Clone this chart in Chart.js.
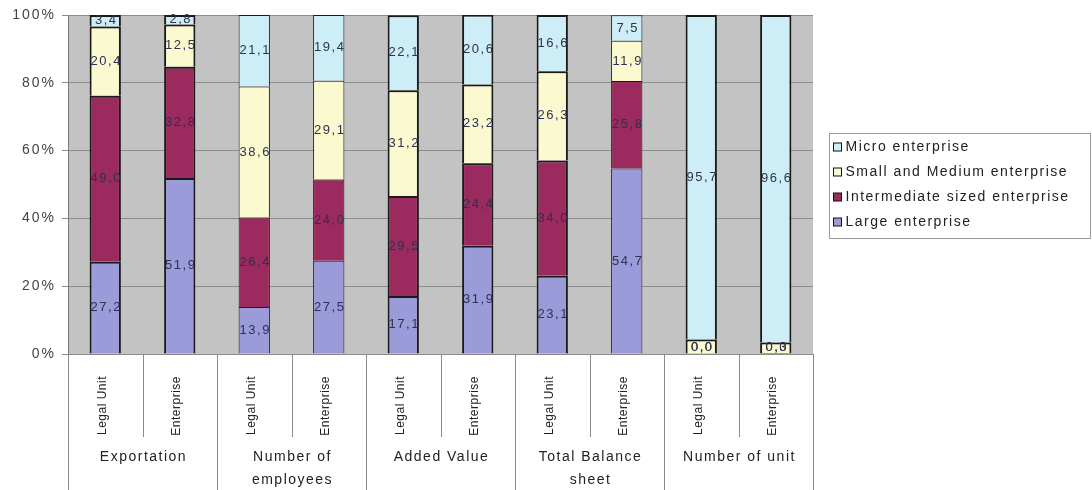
<!DOCTYPE html>
<html>
<head>
<meta charset="utf-8">
<script src="https://cdn.jsdelivr.net/npm/chart.js@4.4.1/dist/chart.umd.min.js"></script>
<style>
  html, body { margin: 0; padding: 0; background: #fff; }
  #wrap { width: 1092px; height: 490px; position: relative; }
</style>
</head>
<body>
<div id="wrap"><canvas id="c"></canvas></div>
<script>
// Indicator groups and the two counting units inside each group
const groups = [['Exportation'], ['Number of', 'employees'], ['Added Value'], ['Total Balance', 'sheet'], ['Number of unit']];
const units = ['Legal Unit', 'Enterprise'];

// Shares (%) per enterprise category, one value per bar
const seriesNames = ['Large enterprise', 'Intermediate sized enterprise', 'Small and Medium enterprise', 'Micro enterprise'];
const large        = [27.2, 51.9, 13.9, 27.5, 17.1, 31.9, 23.1, 54.7, 0.0, 0.0];
const intermediate = [49.0, 32.8, 26.4, 24.0, 29.5, 24.4, 34.0, 25.8, 0.0, 0.3];
const smallMedium  = [20.4, 12.5, 38.6, 29.1, 31.2, 23.2, 26.3, 11.9, 4.3, 3.1];
const micro        = [3.4, 2.8, 21.1, 19.4, 22.1, 20.6, 16.6, 7.5, 95.7, 96.6];

const yTicks = [0, 20, 40, 60, 80, 100];

// value labels that are not printed: [series index, bar index]
const hideLabel = [[2, 8], [2, 9]];

const colors = ['#9b9bd9', '#9b2a5f', '#fbf9cf', '#cdeef6'];
const edgeWidths = [2, 2, 1, 1, 2, 2, 2, 1, 2, 2];

const categories = groups.flatMap(() => units);
const fmt = v => v.toFixed(1).replace('.', ',');
const FONT = '"Liberation Sans", Arial, sans-serif';

const plotBg = {
  id: 'plotBg',
  beforeDraw(chart) {
    const { ctx, chartArea: a } = chart;
    ctx.save();
    ctx.fillStyle = '#c3c3c3';
    ctx.fillRect(a.left, a.top, a.right - a.left, a.bottom - a.top);
    ctx.restore();
    ctx.letterSpacing = '2px';
  }
};

const valueLabels = {
  id: 'valueLabels',
  afterDatasetsDraw(chart) {
    const ctx = chart.ctx;
    const bottom = chart.chartArea.bottom;
    ctx.save();
    ctx.font = '13px ' + FONT;
    ctx.letterSpacing = '1.5px';
    ctx.fillStyle = '#2e3150';
    ctx.textAlign = 'center';
    ctx.textBaseline = 'middle';
    chart.data.datasets.forEach((ds, di) => {
      chart.getDatasetMeta(di).data.forEach((bar, i) => {
        if (hideLabel.some(([d, j]) => d === di && j === i)) return;
        const y = Math.min((bar.y + bar.base) / 2, bottom - 7);
        ctx.fillText(fmt(ds.data[i]), bar.x + 1, y);
      });
    });
    ctx.restore();
  }
};

const axisLabels = {
  id: 'axisLabels',
  afterDraw(chart) {
    const ctx = chart.ctx;
    const xs = chart.scales.x;
    const top = chart.chartArea.bottom;
    const h = chart.height;
    const n = categories.length;
    const edge = k => k === 0 ? xs.left : k === n ? xs.right
      : (xs.getPixelForValue(k - 1) + xs.getPixelForValue(k)) / 2;
    ctx.save();
    ctx.strokeStyle = '#8a8a8a';
    ctx.lineWidth = 1;
    for (let k = 0; k <= n; k++) {
      const x = Math.round(edge(k)) + 0.5;
      const y2 = k % units.length === 0 ? h : top + 83;
      ctx.beginPath();
      ctx.moveTo(x, top);
      ctx.lineTo(x, y2);
      ctx.stroke();
    }
    // unit names, written bottom-to-top
    ctx.fillStyle = '#222';
    ctx.font = '12px ' + FONT;
    ctx.letterSpacing = '0.5px';
    for (let i = 0; i < n; i++) {
      ctx.save();
      ctx.translate(xs.getPixelForValue(i) - 3, top + 22);
      ctx.rotate(-Math.PI / 2);
      ctx.textAlign = 'right';
      ctx.textBaseline = 'middle';
      ctx.fillText(categories[i], 0, 0);
      ctx.restore();
    }
    // group names
    ctx.font = '14px ' + FONT;
    ctx.letterSpacing = '1.5px';
    ctx.textAlign = 'center';
    ctx.textBaseline = 'middle';
    groups.forEach((lines, g) => {
      const cx = (edge(g * units.length) + edge((g + 1) * units.length)) / 2;
      lines.forEach((t, li) => ctx.fillText(t, cx + 1, top + 103 + li * 23));
    });
    ctx.restore();
  }
};

const boxLegend = {
  id: 'boxLegend',
  afterDraw(chart) {
    const ctx = chart.ctx;
    const x0 = chart.chartArea.right + 16.5, y0 = 133.5, w = 261, hgt = 105;
    ctx.save();
    ctx.strokeStyle = '#9a9a9a';
    ctx.lineWidth = 1;
    ctx.strokeRect(x0, y0, w, hgt);
    ctx.font = '14px ' + FONT;
    ctx.letterSpacing = '1.5px';
    ctx.textBaseline = 'middle';
    ctx.textAlign = 'left';
    const order = chart.data.datasets.map((d, i) => i).reverse();
    order.forEach((di, k) => {
      const ds = chart.data.datasets[di];
      const cy = Math.round(y0 + 13 + k * 25.3);
      ctx.fillStyle = ds.backgroundColor;
      ctx.fillRect(x0 + 4, cy - 4, 8, 8);
      ctx.strokeStyle = '#111';
      ctx.strokeRect(x0 + 4, cy - 4, 8, 8);
      ctx.fillStyle = '#222';
      ctx.fillText(ds.label, x0 + 16, cy);
    });
    ctx.restore();
  }
};

new Chart(document.getElementById('c'), {
  type: 'bar',
  data: {
    labels: categories,
    datasets: [large, intermediate, smallMedium, micro].map((data, k) => ({
      label: seriesNames[k],
      data,
      backgroundColor: colors[k],
      borderColor: '#1a1a1a',
      borderWidth: edgeWidths,
      barPercentage: 0.42,
      categoryPercentage: 1
    }))
  },
  options: {
    responsive: true,
    maintainAspectRatio: false,
    animation: false,
    layout: { padding: { top: 15, right: 279, bottom: 0, left: 0 } },
    plugins: { legend: { display: false }, tooltip: { enabled: false } },
    scales: {
      x: {
        stacked: true,
        grid: { display: false },
        border: { display: false },
        ticks: { display: false },
        afterFit(s) { s.height = 136; }
      },
      y: {
        stacked: true,
        min: 0,
        max: 100,
        afterBuildTicks(s) { s.ticks = yTicks.map(v => ({ value: v })); },
        afterFit(s) { s.width = 68; },
        grid: { color: '#8c8c8c', lineWidth: 1, tickLength: 6 },
        border: { color: '#7a7a7a', width: 1 },
        ticks: {
          padding: 6,
          color: '#444',
          font: { family: FONT, size: 14 },
          callback: v => v + '%'
        }
      }
    }
  },
  plugins: [plotBg, valueLabels, axisLabels, boxLegend]
});
</script>
</body>
</html>
